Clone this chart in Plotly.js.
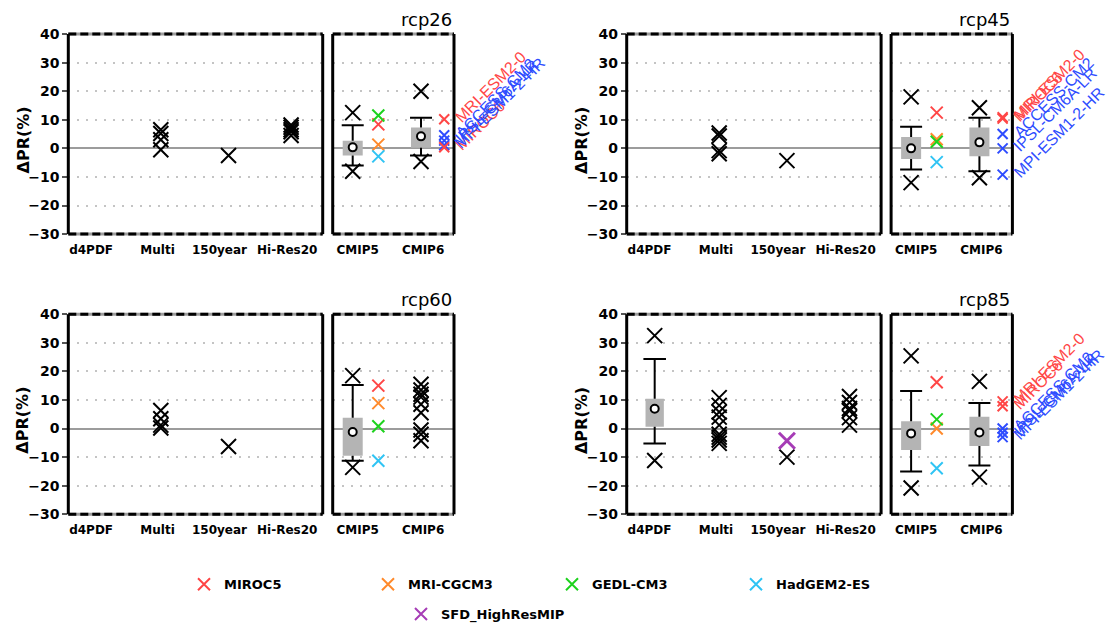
<!DOCTYPE html>
<html>
<head>
<meta charset="utf-8">
<script src="https://cdn.plot.ly/plotly-3.0.1.min.js"></script>
<style>
  html, body { margin: 0; padding: 0; background: #ffffff; }
  #chart { width: 1118px; height: 629px; }
</style>
</head>
<body>
<div id="chart"></div>
<script>
// ---------------------------------------------------------------
// Projected precipitation change (ΔPR, %) per scenario and source
// ---------------------------------------------------------------
const scenarios   = ['rcp26', 'rcp45', 'rcp60', 'rcp85'];
const leftCats    = ['d4PDF', 'Multi', '150year', 'Hi-Res20'];
const rightCats   = ['CMIP5', 'CMIP6'];
const cmip5Models = ['MIROC5', 'MRI-CGCM3', 'GEDL-CM3', 'HadGEM2-ES'];
const cmip6Models = ['MRI-ESM2-0', 'MIROC6', 'ACCESS-CM2', 'IPSL-CM6A-LR', 'MPI-ESM1-2-HR'];
const cmip6Japan  = [true, true, false, false, false];
const yTicks      = [-30, -20, -10, 0, 10, 20, 30, 40];

// five-number summaries: [lower whisker, q1, median, q3, upper whisker]
const d4pdfBox = { rcp85: [-5.2, 0.6, 6.9, 10.4, 24.3] };
const cmip5Box = {
  rcp26: [-6.0, -2.5, 0.35, 2.7, 8.1],
  rcp45: [-7.4, -3.7, 0.0, 4.0, 7.6],
  rcp60: [-11.3, -9.5, -1.2, 3.8, 15.2],
  rcp85: [-15.0, -7.5, -1.7, 2.5, 13.1]
};
const cmip6Box = {
  rcp26: [-2.5, 0.2, 4.2, 7.3, 10.7],
  rcp45: [-8.0, -2.8, 2.1, 7.3, 10.7],
  rcp85: [-12.9, -6.1, -1.4, 4.1, 8.9]
};

// individual members shown as black crosses
const d4pdfX   = { rcp85: [32.5, -11.2] };
const multiX   = {
  rcp26: [6.5, 5.2, 3.0, -0.5],
  rcp45: [5.4, 4.3, -0.8, -1.9],
  rcp60: [6.3, 3.4, 1.2, 0.2],
  rcp85: [10.8, 8.1, 5.8, 4.0, 1.2, -2.0, -3.0, -4.0, -5.2]
};
const year150X = { rcp26: [-2.5], rcp45: [-4.3], rcp60: [-6.3], rcp85: [-10.0] };
const hires20X = {
  rcp26: [8.2, 7.4, 6.5, 5.8, 4.5],
  rcp85: [11.2, 9.1, 7.0, 6.2, 3.8, 1.2]
};
const cmip5X   = { rcp26: [12.5, -8.0], rcp45: [18.0, -12.0], rcp60: [18.5, -13.6], rcp85: [25.4, -20.8] };
const cmip6X   = {
  rcp26: [20.0, -4.6],
  rcp45: [14.2, -10.3],
  rcp60: [15.5, 13.5, 12.0, 11.0, 8.5, 5.5, -0.5, -2.0, -4.3],
  rcp85: [16.5, -17.0]
};

// SFD HighResMIP (150year column)
const sfdX = { rcp85: [-4.3] };

// selected CMIP5 models, order as cmip5Models
const cmip5Sel = {
  rcp26: [8.4, 1.3, 11.5, -2.8],
  rcp45: [12.5, 3.2, 2.3, -4.8],
  rcp60: [15.0, 8.9, 0.8, -11.3],
  rcp85: [16.2, 0.0, 3.2, -13.9]
};
// selected CMIP6 models, order as cmip6Models
const cmip6Sel = {
  rcp26: [10.2, 0.4, 4.6, 2.7, 1.1],
  rcp45: [10.9, 10.4, 5.0, 0.0, -9.2],
  rcp85: [9.5, 7.8, 0.0, -1.5, -3.0]
};

// ---------------------------------------------------------------
// styling / geometry
// ---------------------------------------------------------------
const W = 1118, H = 629;
const colLeft = [68.3, 626.7];     // left edge of the main box in each column (px)
const rowTop  = [34.3, 316.7];     // top edge of each row (px)
const mainW = 254.4, sideOff = 264.4, sideW = 121.3, boxH = 201.7;

const cmip5Colors = ['#ff4646', '#ff8a2c', '#1ed21e', '#30c4f4'];
const jpColor = '#ff4646', otherColor = '#2e4cff', sfdColor = '#a63cb6';
const boxFill = '#b4b4b4';

// category positions on each x axis (axis units)
const leftPos   = [0, 1, 2.05, 3.02];
const leftTick  = [-0.08, 0.95, 1.91, 2.96];
const leftRange = [-0.434, 3.51];
const rightPos  = [1, 2];
const rightTick = [1.073, 2.03];
const rightRange = [0.707, 2.483];
const selOffset = [0.375, 0.34];   // colored model column, right of each box

const boxWLeft = 0.284, capLeft = 0.175;
const boxWRight = 0.293, capRight = 0.161;

const tickFont  = { family: 'DejaVu Sans', size: 14, color: '#000', weight: 'bold' };
const catFont   = { family: 'DejaVu Sans', size: 12, color: '#000', weight: 'bold' };
const legendFont = { family: 'DejaVu Sans', size: 13, color: '#000', weight: 'bold' };

const panels = [
  { name: 'rcp26', col: 0, row: 0 },
  { name: 'rcp45', col: 1, row: 0 },
  { name: 'rcp60', col: 0, row: 1 },
  { name: 'rcp85', col: 1, row: 1 }
];

const xid = n => (n === 1 ? 'x' : 'x' + n);
const yid = n => (n === 1 ? 'y' : 'y' + n);

const traces = [];
const shapes = [];
const annotations = [];
const layout = {
  width: W, height: H,
  margin: { l: 0, r: 0, t: 0, b: 0 },
  paper_bgcolor: '#ffffff', plot_bgcolor: '#ffffff',
  barmode: 'overlay',
  hovermode: false,
  showlegend: true,
  legend: {
    orientation: 'h', x: 184 / W, xanchor: 'left', y: 1 - 589 / H, yanchor: 'middle',
    entrywidth: 139, entrywidthmode: 'pixels', itemsizing: 'constant',
    font: legendFont, bgcolor: 'rgba(0,0,0,0)', borderwidth: 0
  },
  legend2: {
    orientation: 'h', x: 401 / W, xanchor: 'left', y: 1 - 619 / H, yanchor: 'middle',
    itemsizing: 'constant',
    font: legendFont, bgcolor: 'rgba(0,0,0,0)', borderwidth: 0
  }
};

function crosses(ax, x, vals, color, size, width, extra) {
  return Object.assign({
    type: 'scatter', mode: 'markers',
    x: vals.map(() => x), y: vals,
    xaxis: xid(ax), yaxis: yid(ax),
    marker: { symbol: 'x-thin-open', size: size, color: color, line: { width: width, color: color } },
    cliponaxis: false, showlegend: false, hoverinfo: 'skip'
  }, extra || {});
}

function boxGlyph(ax, x, s, bw, cap) {
  const [lo, q1, med, q3, hi] = s;
  traces.push({
    type: 'bar', x: [x], y: [q3 - q1], base: [q1], width: [bw],
    xaxis: xid(ax), yaxis: yid(ax),
    marker: { color: boxFill, line: { width: 0 } },
    showlegend: false, hoverinfo: 'skip'
  });
  traces.push({
    type: 'scatter', mode: 'lines',
    x: [x - cap, x + cap, null, x, x, null, x, x, null, x - cap, x + cap],
    y: [hi, hi, null, hi, q3, null, q1, lo, null, lo, lo],
    xaxis: xid(ax), yaxis: yid(ax),
    line: { color: '#000', width: 2 }, cliponaxis: false,
    showlegend: false, hoverinfo: 'skip'
  });
  traces.push({
    type: 'scatter', mode: 'markers', x: [x], y: [med],
    xaxis: xid(ax), yaxis: yid(ax),
    marker: { symbol: 'circle', size: 8, color: '#fff', line: { width: 2, color: '#000' } },
    showlegend: false, hoverinfo: 'skip'
  });
}

function frame(ax) {
  const xr = xid(ax) + ' domain', yr = yid(ax) + ' domain';
  const seg = (x0, y0, x1, y1, color, dash) => ({
    type: 'line', xref: xr, yref: yr, x0: x0, y0: y0, x1: x1, y1: y1,
    line: { color: color, width: 3, dash: dash || 'solid' }
  });
  shapes.push(seg(0, 1, 1, 1, '#9c9c9c'), seg(0, 1, 1, 1, '#000', '8px,4px'));
  shapes.push(seg(0, 0, 1, 0, '#9c9c9c'), seg(0, 0, 1, 0, '#000', '8px,4px'));
  shapes.push(seg(0, 0, 0, 1, '#000'), seg(1, 0, 1, 1, '#000'));
}

function yAxis(domain, labelled) {
  return {
    domain: domain, range: [-30, 40], tickvals: yTicks,
    showticklabels: labelled, tickfont: tickFont,
    ticks: labelled ? 'outside' : '', ticklen: 5, tickwidth: 2, tickcolor: '#555',
    showgrid: true, gridcolor: '#c4c4c4', gridwidth: 2, griddash: '2px,7px',
    zeroline: true, zerolinecolor: '#9c9c9c', zerolinewidth: 2,
    showline: false, fixedrange: true
  };
}

function xAxis(domain, range, tickvals, ticktext) {
  return {
    domain: domain, range: range, tickvals: tickvals, ticktext: ticktext,
    tickfont: catFont, ticks: '', ticklabelstandoff: 7,
    showgrid: false, zeroline: false, showline: false, fixedrange: true
  };
}

panels.forEach((p, i) => {
  const axL = 2 * i + 1, axR = 2 * i + 2;
  const left = colLeft[p.col], top = rowTop[p.row];
  const yDom = [1 - (top + boxH) / H, 1 - top / H];

  layout['xaxis' + (axL === 1 ? '' : axL)] = Object.assign(
    xAxis([left / W, (left + mainW) / W], leftRange, leftTick, leftCats), { anchor: yid(axL) });
  layout['yaxis' + (axL === 1 ? '' : axL)] = Object.assign(yAxis(yDom, true), { anchor: xid(axL) });
  layout['xaxis' + axR] = Object.assign(
    xAxis([(left + sideOff) / W, (left + sideOff + sideW) / W], rightRange, rightTick, rightCats), { anchor: yid(axR) });
  layout['yaxis' + axR] = Object.assign(yAxis(yDom, false), { anchor: xid(axR) });

  const s = p.name;

  // main box: d4PDF / Multi / 150year / Hi-Res20
  if (d4pdfBox[s]) boxGlyph(axL, leftPos[0], d4pdfBox[s], boxWLeft, capLeft);
  if (d4pdfX[s]) traces.push(crosses(axL, leftPos[0], d4pdfX[s], '#000', 15, 2));
  if (multiX[s]) traces.push(crosses(axL, leftPos[1], multiX[s], '#000', 15, 2));
  if (year150X[s]) traces.push(crosses(axL, leftPos[2], year150X[s], '#000', 15, 2));
  if (hires20X[s]) traces.push(crosses(axL, leftPos[3], hires20X[s], '#000', 15, 2));
  if (sfdX[s]) traces.push(crosses(axL, leftPos[2], sfdX[s], sfdColor, 16, 3,
      { name: 'SFD_HighResMIP', showlegend: true, legend: 'legend2' }));

  // side box: CMIP5 / CMIP6
  if (cmip5Box[s]) boxGlyph(axR, rightPos[0], cmip5Box[s], boxWRight, capRight);
  traces.push(crosses(axR, rightPos[0], cmip5X[s], '#000', 15, 2));
  if (cmip6Box[s]) boxGlyph(axR, rightPos[1], cmip6Box[s], boxWRight, capRight);
  traces.push(crosses(axR, rightPos[1], cmip6X[s], '#000', 15, 2));

  cmip5Models.forEach((m, k) => {
    traces.push(crosses(axR, rightPos[0] + selOffset[0], [cmip5Sel[s][k]], cmip5Colors[k], 12, 2,
      { name: m, legendgroup: m, showlegend: i === 0, legend: 'legend' }));
  });

  if (cmip6Sel[s]) {
    const vals = cmip6Sel[s];
    const xPos = rightPos[1] + selOffset[1];
    const others = vals.filter((v, k) => !cmip6Japan[k]);
    const japan  = vals.filter((v, k) => cmip6Japan[k]);
    traces.push(crosses(axR, xPos, others, otherColor, 10, 2));
    traces.push(crosses(axR, xPos, japan, jpColor, 10, 2));
    cmip6Models.forEach((m, k) => {
      annotations.push({
        text: m, xref: xid(axR), yref: yid(axR), x: xPos, y: vals[k],
        xanchor: 'left', yanchor: 'bottom', xshift: 5, yshift: -9,
        textangle: -45, showarrow: false,
        font: { family: 'Liberation Sans', size: 16, color: cmip6Japan[k] ? jpColor : otherColor }
      });
    });
  }

  frame(axL);
  frame(axR);

  // scenario title above the side box
  annotations.push({
    text: s, xref: xid(axR) + ' domain', yref: yid(axR) + ' domain', x: 1, y: 1,
    xanchor: 'right', yanchor: 'bottom', yshift: 2, showarrow: false,
    font: { family: 'DejaVu Sans', size: 18, color: '#000' }
  });
  // y-axis title
  annotations.push({
    text: 'ΔPR(%)', xref: 'paper', x: (left - 45.3) / W, xanchor: 'center',
    yref: yid(axL) + ' domain', y: 0.468, yanchor: 'middle',
    textangle: -90, showarrow: false,
    font: { family: 'DejaVu Sans', size: 16, color: '#000', weight: 'bold' }
  });
});

layout.shapes = shapes;
layout.annotations = annotations;

Plotly.newPlot('chart', traces, layout, { staticPlot: true, displayModeBar: false });
</script>
</body>
</html>
